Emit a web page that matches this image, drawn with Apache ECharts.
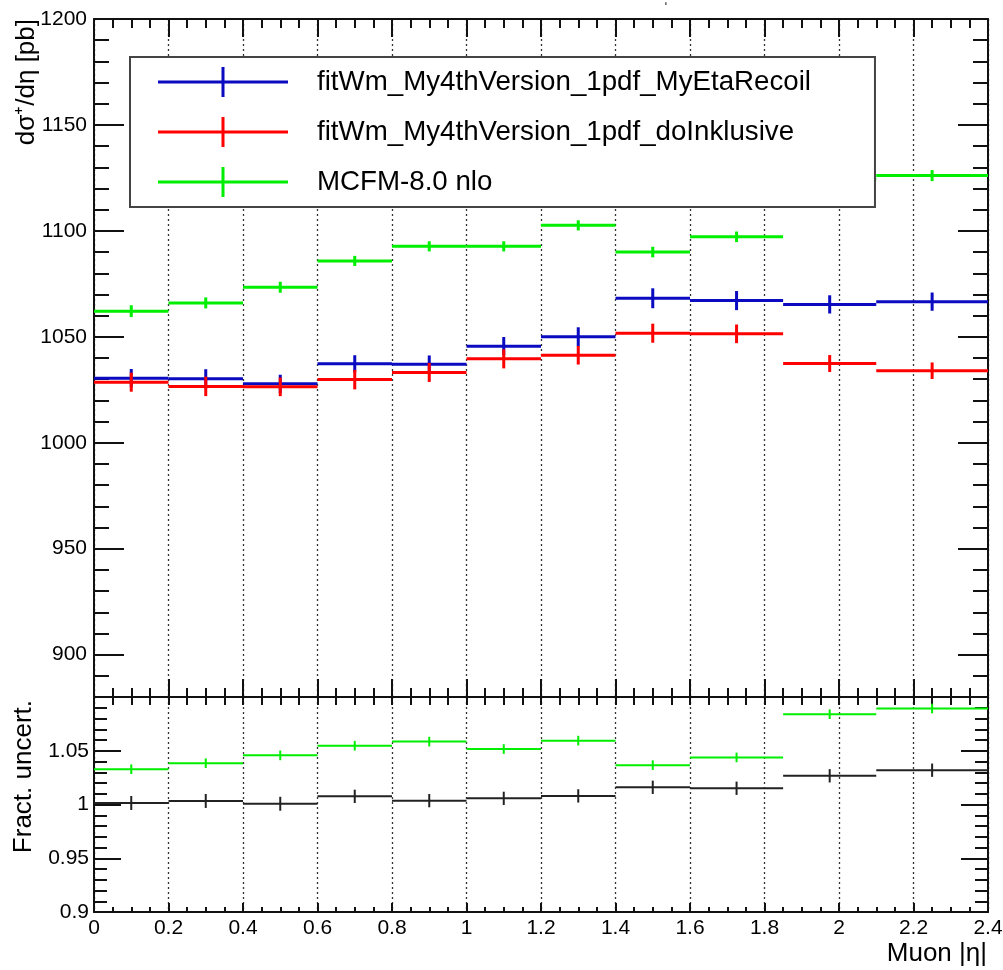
<!DOCTYPE html>
<html>
<head>
<meta charset="utf-8">
<script src="https://cdn.jsdelivr.net/npm/echarts@6/dist/echarts.min.js"></script>
<style>
  html, body { margin: 0; padding: 0; background: #fff; }
  #chart { width: 1003px; height: 970px; }
</style>
</head>
<body>
<div id="chart"></div>
<script>
// bin edges in muon |eta|
const binEdges = [0, 0.2, 0.4, 0.6, 0.8, 1.0, 1.2, 1.4, 1.6, 1.85, 2.1, 2.4];

// d sigma / d eta [pb]
const blueVals = [1030.5, 1030.2, 1027.8, 1037.3, 1037.0, 1045.6, 1050.0, 1068.2, 1067.1, 1065.3, 1066.6];
const blueErrs = [4.3, 4.5, 4.3, 4.0, 4.2, 4.3, 4.5, 4.7, 4.5, 4.3, 4.3];
const redVals = [1028.6, 1026.6, 1026.4, 1029.8, 1033.2, 1039.6, 1041.3, 1051.7, 1051.4, 1037.4, 1034.0];
const redErrs = [4.5, 4.6, 4.4, 4.6, 4.5, 4.5, 4.4, 4.5, 4.4, 4.0, 3.9];
const greenVals = [1062.1, 1066.0, 1073.4, 1085.8, 1092.7, 1092.7, 1102.6, 1090.0, 1097.2, 1124.5, 1126.1];
const greenErrs = [2.8, 2.6, 2.6, 2.4, 2.4, 2.4, 2.4, 2.5, 2.5, 2.6, 2.6];

// ratio panel
const ratioGreen = [1.0328, 1.0384, 1.0457, 1.0547, 1.0585, 1.0516, 1.0594, 1.0366, 1.0438, 1.0840, 1.0893];
const ratioGreenErrs = [0.0045, 0.0045, 0.0045, 0.0045, 0.0045, 0.0045, 0.0045, 0.0045, 0.0045, 0.0045, 0.0045];
const ratioBlack = [1.0014, 1.0033, 1.0007, 1.0076, 1.0036, 1.0057, 1.0080, 1.0160, 1.0151, 1.0267, 1.0319];
const ratioBlackErrs = [0.0065, 0.0065, 0.0065, 0.0062, 0.0062, 0.0062, 0.0062, 0.0062, 0.0062, 0.0062, 0.0062];

const seriesNames = ['fitWm_My4thVersion_1pdf_MyEtaRecoil', 'fitWm_My4thVersion_1pdf_doInklusive', 'MCFM-8.0 nlo'];
const topTicks = [900, 950, 1000, 1050, 1100, 1150, 1200];

const FONT = '"Liberation Sans", Arial, Helvetica, sans-serif';

// [lo, hi, centre, value, error] per bin
function toBins(vals, errs) {
    return vals.map((v, i) => [binEdges[i], binEdges[i + 1], (binEdges[i] + binEdges[i + 1]) / 2, v, errs[i]]);
}

function makeRender(width) {
    return function (params, api) {
        const lo = api.value(0), hi = api.value(1), c = api.value(2), v = api.value(3), e = api.value(4);
        const a = api.coord([lo, v]);
        const b = api.coord([hi, v]);
        const t = api.coord([c, v + e]);
        const d = api.coord([c, v - e]);
        const style = { stroke: api.visual('color'), lineWidth: width, fill: null };
        return {
            type: 'group',
            children: [
                { type: 'line', shape: { x1: a[0], y1: a[1], x2: b[0], y2: b[1] }, style: style },
                { type: 'line', shape: { x1: t[0], y1: t[1], x2: d[0], y2: d[1] }, style: style }
            ]
        };
    };
}

function histSeries(name, vals, errs, color, xi, yi, width) {
    return {
        name: name,
        type: 'custom',
        xAxisIndex: xi,
        yAxisIndex: yi,
        renderItem: makeRender(width),
        itemStyle: { color: color },
        encode: { x: [0, 1], y: [3] },
        data: toBins(vals, errs),
        clip: true,
        silent: true
    };
}

const axisLine = { show: true, onZero: false, lineStyle: { color: '#111', width: 2 } };
const tickStyle = { color: '#111', width: 2 };
const dotted = { show: true, lineStyle: { color: '#333', width: 1.3, type: [2, 3] } };

function xAx(grid, pos, opts) {
    return Object.assign({
        type: 'value', gridIndex: grid, position: pos, min: 0, max: 2.4, interval: 0.2,
        axisLine: axisLine,
        axisTick: { show: true, inside: true, length: 18, lineStyle: tickStyle },
        minorTick: { show: true, splitNumber: 4, length: 9, lineStyle: tickStyle },
        axisLabel: { show: false },
        splitLine: { show: false }
    }, opts);
}

const crossIcon = 'path://M0,13.5 L130,13.5 L130,16.5 L0,16.5 Z M63.5,0 L66.5,0 L66.5,30 L63.5,30 Z';

const chart = echarts.init(document.getElementById('chart'));
const option = {
    animation: false,
    backgroundColor: '#fff',
    grid: [
        { left: 94, top: 19, width: 894, height: 678, outerBoundsMode: 'none' },
        { left: 94, top: 697, width: 894, height: 215, outerBoundsMode: 'none' }
    ],
    xAxis: [
        xAx(0, 'bottom', { splitLine: dotted }),
        xAx(0, 'top', {}),
        xAx(1, 'bottom', {
            splitLine: dotted,
            axisTick: { show: true, inside: true, length: 9, lineStyle: tickStyle },
            minorTick: { show: true, splitNumber: 4, length: 5, lineStyle: tickStyle },
            axisLabel: {
                show: true, margin: 6, color: '#000', fontSize: 21, fontFamily: FONT,
                formatter: v => String(Math.round(v * 100) / 100)
            }
        }),
        xAx(1, 'top', {
            axisTick: { show: true, inside: true, length: 8, lineStyle: tickStyle },
            minorTick: { show: true, splitNumber: 4, length: 8, lineStyle: tickStyle }
        })
    ],
    yAxis: [
        {
            type: 'value', gridIndex: 0, position: 'left', min: 880, max: 1200, interval: 10,
            axisLine: axisLine,
            axisTick: { show: true, inside: true, length: 15, lineStyle: tickStyle },
            axisLabel: {
                show: true, margin: 7, color: '#000', fontSize: 21, fontFamily: FONT,
                formatter: v => (Math.round(v) % 50 === 0 ? String(Math.round(v)) : '')
            },
            splitLine: { show: false }
        },
        {
            type: 'value', gridIndex: 0, position: 'left', min: 880, max: 1200,
            axisLine: { show: false, onZero: false },
            axisTick: { show: true, inside: true, length: 30, lineStyle: tickStyle, customValues: topTicks },
            axisLabel: { show: false },
            splitLine: { show: false }
        },
        {
            type: 'value', gridIndex: 0, position: 'right', min: 880, max: 1200, interval: 10,
            axisLine: axisLine,
            axisTick: { show: true, inside: true, length: 15, lineStyle: tickStyle },
            axisLabel: { show: false },
            splitLine: { show: false }
        },
        {
            type: 'value', gridIndex: 0, position: 'right', min: 880, max: 1200,
            axisLine: { show: false, onZero: false },
            axisTick: { show: true, inside: true, length: 30, lineStyle: tickStyle, customValues: topTicks },
            axisLabel: { show: false },
            splitLine: { show: false }
        },
        {
            type: 'value', gridIndex: 1, position: 'left', min: 0.9, max: 1.1, interval: 0.05,
            axisLine: axisLine,
            axisTick: { show: true, inside: true, length: 27, lineStyle: tickStyle },
            minorTick: { show: true, splitNumber: 5, length: 13, lineStyle: tickStyle },
            axisLabel: {
                show: true, margin: 5, color: '#000', fontSize: 21, fontFamily: FONT,
                formatter: v => (v > 1.09 ? '' : String(Math.round(v * 100) / 100))
            },
            splitLine: { show: false }
        },
        {
            type: 'value', gridIndex: 1, position: 'right', min: 0.9, max: 1.1, interval: 0.05,
            axisLine: axisLine,
            axisTick: { show: true, inside: true, length: 27, lineStyle: tickStyle },
            minorTick: { show: true, splitNumber: 5, length: 13, lineStyle: tickStyle },
            axisLabel: { show: false },
            splitLine: { show: false }
        }
    ],
    legend: {
        orient: 'vertical',
        left: 130,
        top: 57,
        padding: [10, 64, 10, 28],
        itemGap: 20,
        itemWidth: 130,
        itemHeight: 30,
        selectedMode: false,
        backgroundColor: '#fff',
        borderColor: '#444',
        borderWidth: 2,
        z: 10,
        textStyle: {
            color: '#000', fontSize: 27.7, fontFamily: FONT, lineHeight: 30,
            padding: [0, 0, 0, 24]
        },
        data: seriesNames.map(n => ({ name: n, icon: crossIcon }))
    },
    graphic: [
        {
            type: 'text', x: 27, y: 19, rotation: Math.PI / 2,
            style: { text: 'dσ⁺/dη [pb]', align: 'right', verticalAlign: 'middle', fontSize: 26, fontFamily: FONT, fill: '#000' }
        },
        {
            type: 'text', x: 24, y: 700, rotation: Math.PI / 2,
            style: { text: 'Fract. uncert.', align: 'right', verticalAlign: 'middle', fontSize: 26, fontFamily: FONT, fill: '#000' }
        },
        {
            type: 'text', x: 987, y: 954,
            style: { text: 'Muon |η|', align: 'right', verticalAlign: 'middle', fontSize: 26, fontFamily: FONT, fill: '#000' }
        },
        {
            type: 'text', x: 666, y: 8,
            style: { text: 'ʹ', align: 'center', verticalAlign: 'middle', fontSize: 12, fontFamily: FONT, fill: '#000' }
        }
    ],
    series: [
        histSeries(seriesNames[0], blueVals, blueErrs, '#0a0ac0', 0, 0, 3),
        histSeries(seriesNames[1], redVals, redErrs, '#ff0000', 0, 0, 3),
        histSeries(seriesNames[2], greenVals, greenErrs, '#00ee00', 0, 0, 3),
        histSeries('ratioGreen', ratioGreen, ratioGreenErrs, '#00ee00', 2, 4, 2),
        histSeries('ratioBlack', ratioBlack, ratioBlackErrs, '#222222', 2, 4, 2)
    ]
};
chart.setOption(option);
window.addEventListener('resize', () => chart.resize());
</script>
</body>
</html>
